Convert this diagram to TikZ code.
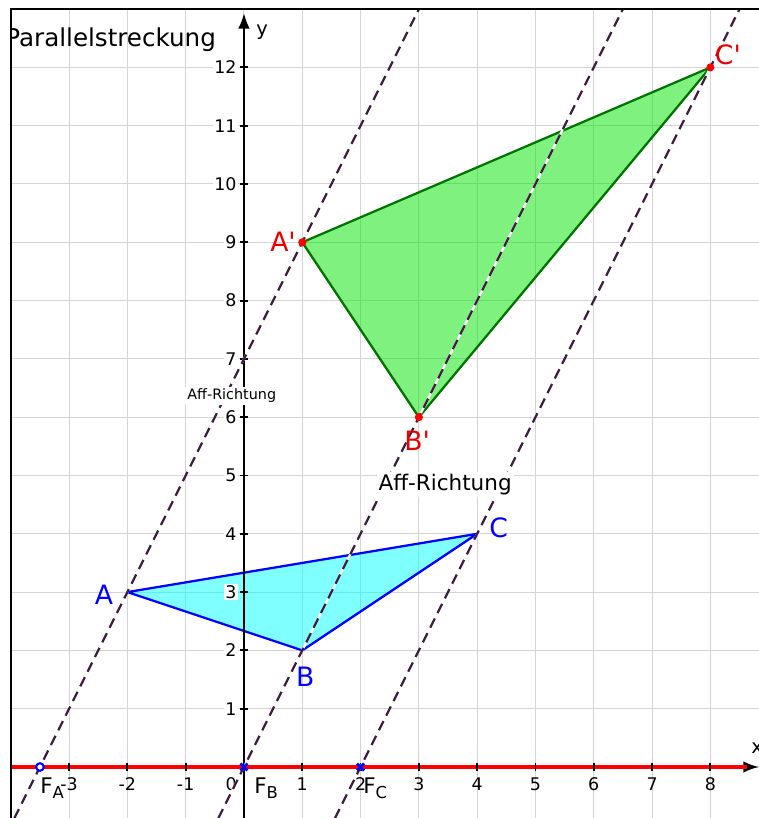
\documentclass[tikz,border=0pt]{standalone}
\usepackage{fontspec}
\setmainfont{DejaVu Sans}
\usetikzlibrary{arrows.meta,calc,positioning}
\definecolor{GeoBlue}{RGB}{0,0,255}
\definecolor{GeoRed}{RGB}{255,0,0}
\definecolor{LblRed}{RGB}{235,0,0}
\definecolor{GeoGreen}{RGB}{0,115,0}
\definecolor{FillCyan}{RGB}{0,255,255}
\definecolor{FillGreen}{RGB}{0,228,0}
\definecolor{AffPurple}{RGB}{60,30,62}
\definecolor{GridGray}{RGB}{212,212,212}
\newcommand{\fpt}[1]{F\raisebox{-.45ex}{\fontsize{8}{8}\selectfont #1}}
\newcommand{\prm}{\textquotesingle}

\begin{document}
\begin{tikzpicture}[>=Latex,
  gridline/.style={GridGray,line width=.5pt},
  axisline/.style={black,line width=1pt},
  affaxis/.style={GeoRed,line width=2.2pt},
  tickmark/.style={black,line width=.9pt},
  ticklbl/.style={font=\fontsize{8.5}{10}\selectfont,inner sep=.6pt},
  affline/.style={AffPurple,line width=1.1pt,dash pattern=on 5pt off 3pt},
  affunder/.style={white,line width=1.1pt},
  origtri/.style={GeoBlue,line width=1.1pt,fill=FillCyan,fill opacity=.5,line join=round},
  imgtri/.style={GeoGreen,line width=1.1pt,fill=FillGreen,fill opacity=.5,line join=round},
  ptlbl/.style={font=\fontsize{13}{15}\selectfont,inner sep=0pt},
  flbl/.style={font=\fontsize{10.5}{12}\selectfont,inner sep=0pt,anchor=base west},
  afflbl/.style={fill=white,inner sep=1pt}]
\useasboundingbox (-4.185,-.875) rectangle (8.834,13.156);
\begin{scope}
\clip (-4,-.875) rectangle (8.834,13);
\draw[gridline] (-4,-1) grid (9,14);
\node[font=\fontsize{12}{14}\selectfont,inner sep=0pt,anchor=base west] (title) at (-4.1,12.35) {Parallelstreckung};
\coordinate (A) at (-2,3);
\coordinate (B) at (1,2);
\coordinate (C) at (4,4);
\coordinate (A') at (1,9);
\coordinate (B') at (3,6);
\coordinate (C') at (8,12);
\coordinate (FA) at (-3.5,0);
\coordinate (FB) at (0,0);
\coordinate (FC) at (2,0);
\coordinate (la) at (-3.94,-.88);
\coordinate (ua) at (3.1,13.2);
\coordinate (lb) at (-.44,-.88);
\coordinate (ub) at (6.6,13.2);
\coordinate (lc) at (1.56,-.88);
\coordinate (uc) at (8.6,13.2);
\coordinate (xl) at (-4,0);
\coordinate (xr) at (8.83,0);
\coordinate (yb) at (0,-1);
\coordinate (yt) at (0,12.93);
\filldraw[origtri] (A) -- (B) -- (C) -- cycle;
\filldraw[imgtri] (A') -- (B') -- (C') -- cycle;
\draw[axisline,->] (yb) -- (yt);
\draw[axisline,->] (xl) -- (xr);
\draw[affaxis] (xl) -- ($(xr)+(-.2,0)$);
\foreach \x in {-3,-2,-1,1,2,3,4,5,6,7,8}
  \draw[tickmark] (\x,-.07) -- (\x,.07);
\foreach \x in {-3,-2,-1,1,2,3,4,5,6,7,8}
  \node[ticklbl,anchor=base] (xt\x) at (\x,-.41) {\x};
\node[ticklbl,anchor=base] (xt0) at (-.22,-.41) {0};
\foreach \y in {1,...,12}{
  \draw[tickmark] (-.07,\y) -- (.07,\y);
  \node[ticklbl,fill=white,anchor=east] (yt\y) at (-.1,\y) {\y};
}
\node[font=\fontsize{9.5}{11}\selectfont] (ylbl) at (.31,12.6) {y};
\node[font=\fontsize{9.5}{11}\selectfont] (xlbl) at (8.8,.33) {x};
\draw[affunder] (la) -- (ua);
\draw[affline] (la) -- (ua);
\draw[affunder] (lb) -- (ub);
\draw[affline] (lb) -- (ub);
\draw[affunder] (lc) -- (uc);
\draw[affline] (lc) -- (uc);
\node[afflbl,font=\fontsize{7}{8}\selectfont] (aff1) at (-.21,6.37) {Aff-Richtung};
\node[afflbl,font=\fontsize{10.5}{12}\selectfont] (aff2) at (3.45,4.84) {Aff-Richtung};
\foreach \p in {A',B',C'}
  \fill[GeoRed] (\p) circle (.07);
\draw[GeoBlue,line width=1pt,fill=white] (FA) circle (.065);
\foreach \p in {FB,FC}
  \draw[GeoBlue,line width=1.3pt] ($(\p)+(-.06,-.06)$) -- ($(\p)+(.06,.06)$)
    ($(\p)+(-.06,.06)$) -- ($(\p)+(.06,-.06)$);
\node[ptlbl,GeoBlue] (lA) at (-2.4,2.95) {A};
\node[ptlbl,GeoBlue] (lB) at (1.05,1.55) {B};
\node[ptlbl,GeoBlue] (lC) at (4.37,4.1) {C};
\node[ptlbl,LblRed] (lA') at (.67,9) {A\prm};
\node[ptlbl,LblRed] (lB') at (2.97,5.6) {B\prm};
\node[ptlbl,LblRed] (lC') at (8.3,12.22) {C\prm};
\node[flbl] (lFA) at (-3.5,-.45) {\fpt{A}};
\node[flbl] (lFB) at (.17,-.45) {\fpt{B}};
\node[flbl] (lFC) at (2.04,-.45) {\fpt{C}};
\end{scope}
\draw[black,line width=1.2pt] (-4,-.875) -- (-4,13) -- (8.834,13);
\end{tikzpicture}
\end{document}
